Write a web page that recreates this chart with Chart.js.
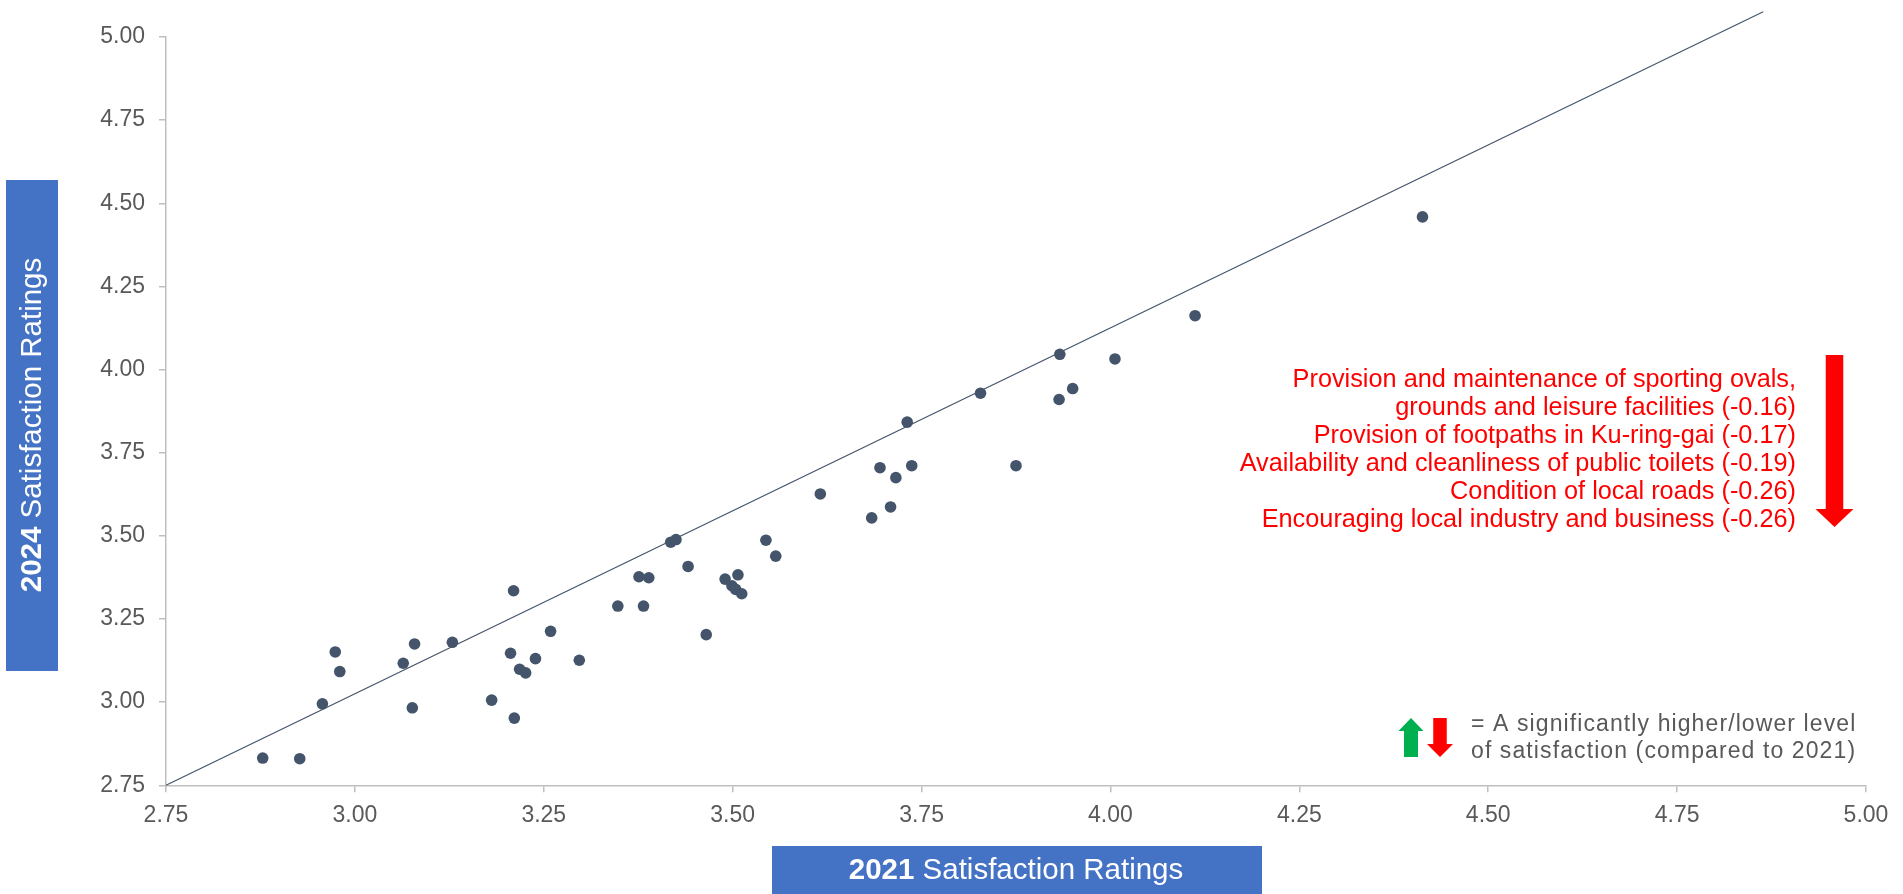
<!DOCTYPE html>
<html>
<head>
<meta charset="utf-8">
<title>Satisfaction ratings 2021 vs 2024</title>
<script src="https://cdn.jsdelivr.net/npm/chart.js@4/dist/chart.umd.min.js"></script>
<style>
  html, body { margin: 0; padding: 0; background: #ffffff; }
  #chart { display: block; }
</style>
</head>
<body>
<canvas id="chart" width="1903" height="894"></canvas>
<script>
// Mean satisfaction per service area: 2021 (x) against 2024 (y)
const ratings2021 = [
    2.878, 2.927, 2.957, 2.974, 2.980, 3.064, 3.079, 3.076, 3.129, 3.181,
    3.206, 3.210, 3.211, 3.218, 3.226, 3.239, 3.259, 3.297, 3.348, 3.376,
    3.382, 3.389, 3.418, 3.425, 3.441, 3.465, 3.490, 3.499, 3.504, 3.512,
    3.507, 3.544, 3.557, 3.616, 3.684, 3.695, 3.709, 3.716, 3.731, 3.737,
    3.828, 3.875, 3.933, 3.932, 3.950, 4.006, 4.112, 4.413
];
const ratings2024 = [
    2.832, 2.830, 2.995, 3.151, 3.092, 3.117, 3.175, 2.983, 3.180, 3.006,
    3.147, 3.335, 2.952, 3.099, 3.088, 3.131, 3.213, 3.126, 3.289, 3.377,
    3.289, 3.374, 3.481, 3.489, 3.408, 3.203, 3.370, 3.350, 3.339, 3.326,
    3.383, 3.487, 3.439, 3.626, 3.554, 3.705, 3.587, 3.675, 3.842, 3.711,
    3.929, 3.711, 4.046, 3.910, 3.943, 4.032, 4.162, 4.459
];

// Reference line end points
const refLineX = [2.75, 4.864];
const refLineY = [2.75, 5.076];

const axisMin = 2.75;
const axisMax = 5.00;
const axisStep = 0.25;

const declines = [
    'Provision and maintenance of sporting ovals,',
    'grounds and leisure facilities (-0.16)',
    'Provision of footpaths in Ku-ring-gai (-0.17)',
    'Availability and cleanliness of public toilets (-0.19)',
    'Condition of local roads (-0.26)',
    'Encouraging local industry and business (-0.26)'
];
const legendLines = [
    '= A significantly higher/lower level',
    'of satisfaction (compared to 2021)'
];

const FONT = '"Liberation Sans", Arial, sans-serif';
const TICK_COLOR = '#595959';
const AXIS_COLOR = '#BFBFBF';
const DOT_COLOR = '#44546A';
const BOX_COLOR = '#4472C4';
const RED = '#FF0000';
const GREEN = '#00B050';

const points = ratings2021.map((x, i) => ({ x: x, y: ratings2024[i] }));
const refLine = refLineX.map((x, i) => ({ x: x, y: refLineY[i] }));

function drawArrow(ctx, cx, shaftW, headW, tail, headBase, tip, color) {
    ctx.fillStyle = color;
    ctx.beginPath();
    ctx.moveTo(cx - shaftW / 2, tail);
    ctx.lineTo(cx + shaftW / 2, tail);
    ctx.lineTo(cx + shaftW / 2, headBase);
    ctx.lineTo(cx + headW / 2, headBase);
    ctx.lineTo(cx, tip);
    ctx.lineTo(cx - headW / 2, headBase);
    ctx.lineTo(cx - shaftW / 2, headBase);
    ctx.closePath();
    ctx.fill();
}

// bold year followed by regular text, centred on (0, 0)
function drawTitle(ctx, year, rest) {
    const size = 29.5;
    ctx.font = `bold ${size}px ${FONT}`;
    const w1 = ctx.measureText(year).width;
    ctx.font = `${size}px ${FONT}`;
    const w2 = ctx.measureText(rest).width;
    let x = -(w1 + w2) / 2;
    ctx.fillStyle = '#ffffff';
    ctx.textBaseline = 'middle';
    ctx.textAlign = 'left';
    ctx.font = `bold ${size}px ${FONT}`;
    ctx.fillText(year, x, 1);
    ctx.font = `${size}px ${FONT}`;
    ctx.fillText(rest, x + w1, 1);
}

const decorations = {
    id: 'decorations',
    afterDraw(chart) {
        const ctx = chart.ctx;
        ctx.save();

        // axis title boxes
        ctx.fillStyle = BOX_COLOR;
        ctx.fillRect(6, 180, 52, 491);
        ctx.fillRect(772, 846, 490, 48);

        ctx.save();
        ctx.translate(32, 425);
        ctx.rotate(-Math.PI / 2);
        drawTitle(ctx, '2024', ' Satisfaction Ratings');
        ctx.restore();

        ctx.save();
        ctx.translate(1016, 870);
        drawTitle(ctx, '2021', ' Satisfaction Ratings');
        ctx.restore();

        // significant declines
        ctx.fillStyle = RED;
        ctx.font = `25.3px ${FONT}`;
        ctx.textAlign = 'right';
        ctx.textBaseline = 'alphabetic';
        declines.forEach((line, i) => {
            ctx.fillText(line, 1796, 387 + i * 28);
        });
        drawArrow(ctx, 1834.5, 17.5, 38, 355, 509, 527, RED);

        // key
        drawArrow(ctx, 1411, 14, 25, 757, 731, 718, GREEN);
        drawArrow(ctx, 1440, 13.5, 26, 718, 744, 757, RED);
        ctx.fillStyle = TICK_COLOR;
        ctx.font = `23px ${FONT}`;
        ctx.letterSpacing = '1.1px';
        ctx.textAlign = 'left';
        legendLines.forEach((line, i) => {
            ctx.fillText(line, 1471, 731 + i * 27);
        });

        ctx.restore();
    }
};

new Chart(document.getElementById('chart'), {
    type: 'scatter',
    data: {
        datasets: [
            {
                label: 'Ratings',
                data: points,
                backgroundColor: DOT_COLOR,
                borderColor: DOT_COLOR,
                pointRadius: 5.8,
                pointBorderWidth: 0,
                order: 1
            },
            {
                label: 'Reference',
                data: refLine,
                showLine: true,
                borderColor: DOT_COLOR,
                borderWidth: 1.2,
                pointRadius: 0,
                clip: false,
                order: 2
            }
        ]
    },
    options: {
        responsive: false,
        animation: false,
        layout: { padding: { top: 37, right: 37, bottom: 0, left: 0 } },
        plugins: {
            legend: { display: false },
            tooltip: { enabled: false }
        },
        scales: {
            x: {
                type: 'linear',
                min: axisMin,
                max: axisMax,
                afterFit(scale) { scale.height = 108.7; },
                ticks: {
                    stepSize: axisStep,
                    padding: 10,
                    color: TICK_COLOR,
                    font: { family: FONT, size: 23 },
                    callback: v => v.toFixed(2)
                },
                grid: { drawOnChartArea: false, drawTicks: true, tickLength: 7, color: AXIS_COLOR, lineWidth: 1.5 },
                border: { color: AXIS_COLOR, width: 1.5 }
            },
            y: {
                type: 'linear',
                min: axisMin,
                max: axisMax,
                afterFit(scale) { scale.width = 166; },
                ticks: {
                    stepSize: axisStep,
                    padding: 14,
                    color: TICK_COLOR,
                    font: { family: FONT, size: 23 },
                    callback: v => v.toFixed(2)
                },
                grid: { drawOnChartArea: false, drawTicks: true, tickLength: 7, color: AXIS_COLOR, lineWidth: 1.5 },
                border: { color: AXIS_COLOR, width: 1.5 }
            }
        }
    },
    plugins: [decorations]
});
</script>
</body>
</html>
